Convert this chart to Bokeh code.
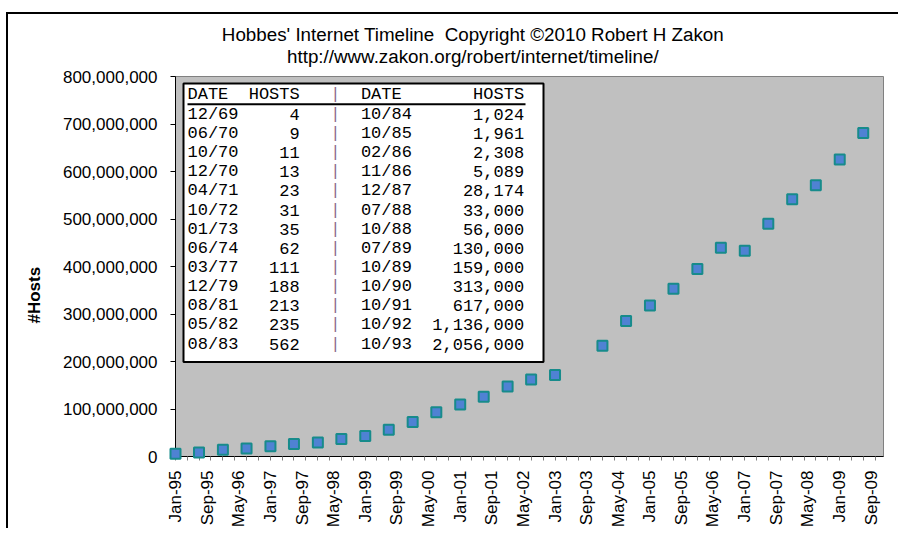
import pandas as pd
from math import pi
from bokeh.plotting import figure
from bokeh.models import (FixedTicker, DatetimeTickFormatter, NumeralTickFormatter,
                          Title, Range1d, ColumnDataSource)
from bokeh.core.properties import value
from bokeh.embed import file_html
from bokeh.resources import INLINE

# ---------------- data ----------------
survey_dates = ["1995-01", "1995-07", "1996-01", "1996-07", "1997-01", "1997-07",
                "1998-01", "1998-07", "1999-01", "1999-07", "2000-01", "2000-07",
                "2001-01", "2001-07", "2002-01", "2002-07", "2003-01", "2004-01",
                "2004-07", "2005-01", "2005-07", "2006-01", "2006-07", "2007-01",
                "2007-07", "2008-01", "2008-07", "2009-01", "2009-07"]
host_counts = [5846000, 8200000, 14352000, 16729000, 21819000, 26053000,
               29670000, 36739000, 43230000, 56218000, 72398092, 93047785,
               109574429, 125888197, 147344723, 162128493, 171638297, 233101481,
               285139107, 317646084, 353284187, 394991609, 439286364, 433193199,
               489774269, 541677360, 570937778, 625226456, 681064561]

x_tick_labels = ["Jan-95", "Sep-95", "May-96", "Jan-97", "Sep-97", "May-98",
                 "Jan-99", "Sep-99", "May-00", "Jan-01", "Sep-01", "May-02",
                 "Jan-03", "Sep-03", "May-04", "Jan-05", "Sep-05", "May-06",
                 "Jan-07", "Sep-07", "May-08", "Jan-09", "Sep-09"]
y_ticks = [0, 100000000, 200000000, 300000000, 400000000,
           500000000, 600000000, 700000000, 800000000]

early_dates_1 = ["12/69", "06/70", "10/70", "12/70", "04/71", "10/72", "01/73",
                 "06/74", "03/77", "12/79", "08/81", "05/82", "08/83"]
early_hosts_1 = [4, 9, 11, 13, 23, 31, 35, 62, 111, 188, 213, 235, 562]
early_dates_2 = ["10/84", "10/85", "02/86", "11/86", "12/87", "07/88", "10/88",
                 "07/89", "10/89", "10/90", "10/91", "10/92", "10/93"]
early_hosts_2 = [1024, 1961, 2308, 5089, 28174, 33000, 56000, 130000, 159000,
                 313000, 617000, 1136000, 2056000]

title_line1 = "Hobbes' Internet Timeline\u00a0 Copyright \u00a92010 Robert H Zakon"
title_line2 = "http://www.zakon.org/robert/internet/timeline/"
y_title = "#Hosts"

# ---------------- layout (page pixels) ----------------
PAGE_X0, PAGE_Y0 = 8, 14
FRAME_L, FRAME_T, FRAME_W, FRAME_H = 175, 76, 708, 382
CANVAS_W, CANVAS_H = 892, 516
Y_MAX = 800000000
x_start = pd.Timestamp("1995-01-01")
x_end = x_start + pd.Timedelta(days=5451)
xs_ms = x_start.value / 1e6
xe_ms = x_end.value / 1e6
ms_per_px = (xe_ms - xs_ms) / FRAME_W


def dx(px):
    return xs_ms + (px - FRAME_L) * ms_per_px


def dy(py):
    return (FRAME_T + FRAME_H - py) * (Y_MAX / FRAME_H)


FONT = "Liberation Sans"
MONO = "Liberation Mono"

p = figure(x_axis_type="datetime", width=CANVAS_W, height=CANVAS_H,
           min_border_left=FRAME_L - PAGE_X0,
           min_border_right=CANVAS_W - FRAME_W - (FRAME_L - PAGE_X0),
           min_border_top=FRAME_T - PAGE_Y0,
           min_border_bottom=CANVAS_H - FRAME_H - (FRAME_T - PAGE_Y0),
           x_range=Range1d(x_start, x_end), y_range=Range1d(0, Y_MAX),
           output_backend="svg", toolbar_location=None,
           background_fill_color="#c0c0c0", border_fill_color="white",
           outline_line_color="#808080", outline_line_width=1,
           margin=(PAGE_Y0, 0, 0, PAGE_X0), styles={"box-shadow": "-2px -2px 0 0 #000000"})
p.grid.visible = False

# y axis
p.yaxis.ticker = FixedTicker(ticks=y_ticks)
p.yaxis.formatter = NumeralTickFormatter(format="0,0")
p.yaxis.major_tick_out = 5
p.yaxis.major_tick_in = 0
p.yaxis.minor_tick_line_color = None
p.yaxis.major_label_standoff = 13
p.yaxis.axis_line_color = "black"
p.yaxis.major_tick_line_color = "black"
p.yaxis.major_label_text_font = FONT
p.yaxis.major_label_text_font_size = "17px"
p.yaxis.major_label_text_color = "black"

# x axis
label_pos = [pd.to_datetime(t, format="%b-%y") for t in x_tick_labels]
label_ms = [t.value / 1e6 for t in label_pos]
quarter_ms = [t.value / 1e6 for t in pd.date_range("1995-01-01", "2009-10-01", freq="QS")]
p.xaxis.ticker = FixedTicker(ticks=label_ms, minor_ticks=quarter_ms)
fmt = "%b-%y"
p.xaxis.formatter = DatetimeTickFormatter(microseconds=fmt, milliseconds=fmt, seconds=fmt,
                                          minsec=fmt, minutes=fmt, hourmin=fmt, hours=fmt,
                                          days=fmt, months=fmt, years=fmt)
p.xaxis.major_label_orientation = pi / 2
p.xaxis.major_tick_line_color = None
p.xaxis.major_tick_out = 4
p.xaxis.minor_tick_out = 4
p.xaxis.minor_tick_in = 0
p.xaxis.minor_tick_line_color = "#808080"
p.xaxis.major_label_standoff = 10
p.xaxis.axis_line_color = "black"
p.xaxis.major_label_text_font = FONT
p.xaxis.major_label_text_font_size = "17px"
p.xaxis.major_label_text_color = "black"

# data points
src = ColumnDataSource(dict(date=pd.to_datetime(survey_dates, format="%Y-%m"), hosts=host_counts))
p.scatter(x="date", y="hosts", source=src, marker="square", size=10,
          fill_color="#4f82d3", line_color="#178b8b", line_width=2, level="overlay")

# early-hosts table box
p.quad(left=dx(183), right=dx(543), top=dy(83), bottom=dy(363),
       fill_color="white", line_color="black", line_width=2)
p.segment(x0=dx(187), y0=dy(104), x1=dx(525), y1=dy(104), line_color="black", line_width=2)

CW = 10.2
TX = 187
row_y = [dy(114 + 19.25 * i) for i in range(len(early_dates_1))]
head_y = dy(94)
tfont = dict(text_font=value(MONO), text_font_size="17px", text_baseline="middle", text_color="black")


def fmt_int(v):
    return f"{v:,}"


n = len(row_y) + 1
p.text(x=[dx(TX)] * n, y=[head_y] + row_y,
       text=["DATE"] + early_dates_1, text_align="left", **tfont)
p.text(x=[dx(TX + 11 * CW)] * n, y=[head_y] + row_y,
       text=["HOSTS"] + [fmt_int(v) for v in early_hosts_1], text_align="right", **tfont)
p.text(x=[dx(TX + 17 * CW)] * n, y=[head_y] + row_y,
       text=["DATE"] + early_dates_2, text_align="left", **tfont)
p.text(x=[dx(TX + 33 * CW)] * n, y=[head_y] + row_y,
       text=["HOSTS"] + [fmt_int(v) for v in early_hosts_2], text_align="right", **tfont)
p.text(x=[dx(TX + 14.5 * CW)] * n, y=[head_y] + row_y,
       text=["|"] * n, text_align="center",
       text_font=value(MONO), text_font_size="17px", text_baseline="middle", text_color="#8c6a8c")

# titles (first added sits next to the frame)
TS = 18.8
w1 = 26.772 * TS
w2 = 19.84 * TS
p.add_layout(Title(text=title_line2, align="left", offset=473 - FRAME_L - w2 / 2,
                   text_font=FONT, text_font_size=f"{TS}px", text_font_style="normal",
                   text_color="black", standoff=18, vertical_align="middle"), "above")
p.add_layout(Title(text=title_line1, align="left", offset=473 - FRAME_L - w1 / 2,
                   text_font=FONT, text_font_size=f"{TS}px", text_font_style="normal",
                   text_color="black", standoff=-20, vertical_align="middle"), "above")
p.add_layout(Title(text=y_title, align="left", offset=FRAME_T + FRAME_H - 325,
                   text_font=FONT, text_font_size="17px", text_font_style="bold",
                   text_color="black", standoff=30, vertical_align="middle"), "left")

open("out.html", "w").write(file_html(p, INLINE))
